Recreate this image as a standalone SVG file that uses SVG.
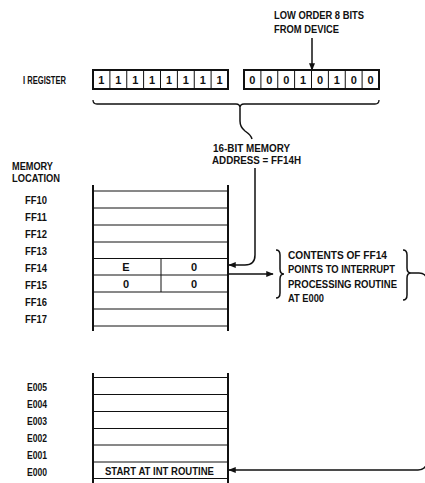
<svg xmlns="http://www.w3.org/2000/svg" width="425" height="483" viewBox="0 0 425 483">
<style>
text{font-family:"Liberation Sans",Arial,sans-serif;font-weight:bold;font-size:11px;fill:#111}
.c{text-anchor:middle}
.ln{stroke:#111;stroke-width:1;fill:none}
.thk{stroke:#111;stroke-width:2;fill:none}
</style>
<defs>
<marker id="ah" viewBox="0 0 10 8" refX="9" refY="4" markerWidth="8" markerHeight="6" orient="auto" markerUnits="userSpaceOnUse">
<path d="M0,0 L10,4 L0,8 z" fill="#111"/>
</marker>
</defs>
<rect width="425" height="483" fill="#fff"/>

<g id="labels">
<text x="274" y="19" textLength="90" lengthAdjust="spacingAndGlyphs">LOW ORDER 8 BITS</text>
<text x="274" y="32.5" textLength="65" lengthAdjust="spacingAndGlyphs">FROM DEVICE</text>
<text x="23" y="84" textLength="43" lengthAdjust="spacingAndGlyphs">I REGISTER</text>
<text x="213" y="152" textLength="77" lengthAdjust="spacingAndGlyphs">16-BIT MEMORY</text>
<text x="212" y="164" textLength="89" lengthAdjust="spacingAndGlyphs">ADDRESS = FF14H</text>
<text x="12" y="170" textLength="41" lengthAdjust="spacingAndGlyphs">MEMORY</text>
<text x="12" y="182" textLength="48" lengthAdjust="spacingAndGlyphs">LOCATION</text>
</g>

<g id="register-high">
<rect x="93" y="70" width="135" height="19" class="thk"/>
<path class="ln" d="M109.9 70V89M126.75 70V89M143.6 70V89M160.5 70V89M177.4 70V89M194.25 70V89M211.1 70V89"/>
<text class="c" x="101.4" y="84">1</text><text class="c" x="118.3" y="84">1</text><text class="c" x="135.2" y="84">1</text><text class="c" x="152" y="84">1</text><text class="c" x="169" y="84">1</text><text class="c" x="185.8" y="84">1</text><text class="c" x="202.7" y="84">1</text><text class="c" x="219.6" y="84">1</text>
</g>

<g id="register-low">
<rect x="244" y="70" width="135" height="19" class="thk"/>
<path class="ln" d="M260.9 70V89M277.75 70V89M294.6 70V89M311.5 70V89M328.4 70V89M345.25 70V89M362.1 70V89"/>
<text class="c" x="252.4" y="84">0</text><text class="c" x="269.3" y="84">0</text><text class="c" x="286.2" y="84">0</text><text class="c" x="303" y="84">1</text><text class="c" x="320" y="84">0</text><text class="c" x="336.8" y="84">1</text><text class="c" x="353.7" y="84">0</text><text class="c" x="370.6" y="84">0</text>
</g>

<g id="memory-ff">
<path class="thk" d="M93 185V331M228 185V331"/>
<path class="ln" d="M93 191H228M93 208H228M93 225H228M93 242H228M93 258.5H228M93 275H228M93 292H228M93 309H228M93 326H228M161 258.5V292"/>
<text x="25" y="203.5" textLength="22" lengthAdjust="spacingAndGlyphs">FF10</text>
<text x="25" y="220.5" textLength="22" lengthAdjust="spacingAndGlyphs">FF11</text>
<text x="25" y="237.5" textLength="22" lengthAdjust="spacingAndGlyphs">FF12</text>
<text x="25" y="254.5" textLength="22" lengthAdjust="spacingAndGlyphs">FF13</text>
<text x="25" y="271.5" textLength="22" lengthAdjust="spacingAndGlyphs">FF14</text>
<text x="25" y="288.5" textLength="22" lengthAdjust="spacingAndGlyphs">FF15</text>
<text x="25" y="305.5" textLength="22" lengthAdjust="spacingAndGlyphs">FF16</text>
<text x="25" y="322.5" textLength="22" lengthAdjust="spacingAndGlyphs">FF17</text>
<text class="c" x="126" y="271">E</text>
<text class="c" x="194" y="271">0</text>
<text class="c" x="126" y="288">0</text>
<text class="c" x="194" y="288">0</text>
</g>

<g id="note">
<path class="ln" style="stroke-width:1.5" d="M276 250Q280 250 280 255V269Q280 274 284 274Q280 274 280 279V293Q280 298 276 298"/>
<path class="ln" style="stroke-width:1.5" d="M403 250Q407 250 407 255V268Q407 273 411 273Q407 273 407 278V295Q407 300 403 300"/>
<text x="288" y="258.5" textLength="99" lengthAdjust="spacingAndGlyphs">CONTENTS OF FF14</text>
<text x="288" y="273" textLength="107" lengthAdjust="spacingAndGlyphs">POINTS TO INTERRUPT</text>
<text x="288" y="287.5" textLength="109" lengthAdjust="spacingAndGlyphs">PROCESSING ROUTINE</text>
<text x="288" y="301.5" textLength="36" lengthAdjust="spacingAndGlyphs">AT E000</text>
</g>

<g id="memory-e">
<path class="thk" d="M93 373V483M228 373V483"/>
<path class="ln" d="M93 377.5H228M93 394.5H228M93 411.5H228M93 428.5H228M93 445H228M93 462H228M93 478.5H228"/>
<text x="27" y="390.5" textLength="20" lengthAdjust="spacingAndGlyphs">E005</text>
<text x="27" y="407.5" textLength="20" lengthAdjust="spacingAndGlyphs">E004</text>
<text x="27" y="424.5" textLength="20" lengthAdjust="spacingAndGlyphs">E003</text>
<text x="27" y="441.5" textLength="20" lengthAdjust="spacingAndGlyphs">E002</text>
<text x="27" y="458.5" textLength="20" lengthAdjust="spacingAndGlyphs">E001</text>
<text x="27" y="475.5" textLength="20" lengthAdjust="spacingAndGlyphs">E000</text>
<text x="105" y="475" textLength="109" lengthAdjust="spacingAndGlyphs">START AT INT ROUTINE</text>
</g>

<g id="connectors">
<path class="ln" style="stroke-width:1.5" d="M312 38V70" marker-end="url(#ah)"/>
<path class="ln" style="stroke-width:1.3" d="M93 100Q93 104 97 104H236Q240 104 240 108Q240 104 244 104H375Q379 104 379 100"/>
<path class="ln" style="stroke-width:1.5" d="M240 108V121Q240 127 245 131Q251 135 252 139"/>
<path class="ln" style="stroke-width:1.5" d="M255 168V255Q255 265 245 265H229" marker-end="url(#ah)"/>
<path class="ln" style="stroke-width:1.5" d="M229 274H273" marker-end="url(#ah)"/>
<path class="ln" style="stroke-width:1.5" d="M411 273H419Q426 273 427 280V462Q426 470 418 470H229" marker-end="url(#ah)"/>
</g>
</svg>
